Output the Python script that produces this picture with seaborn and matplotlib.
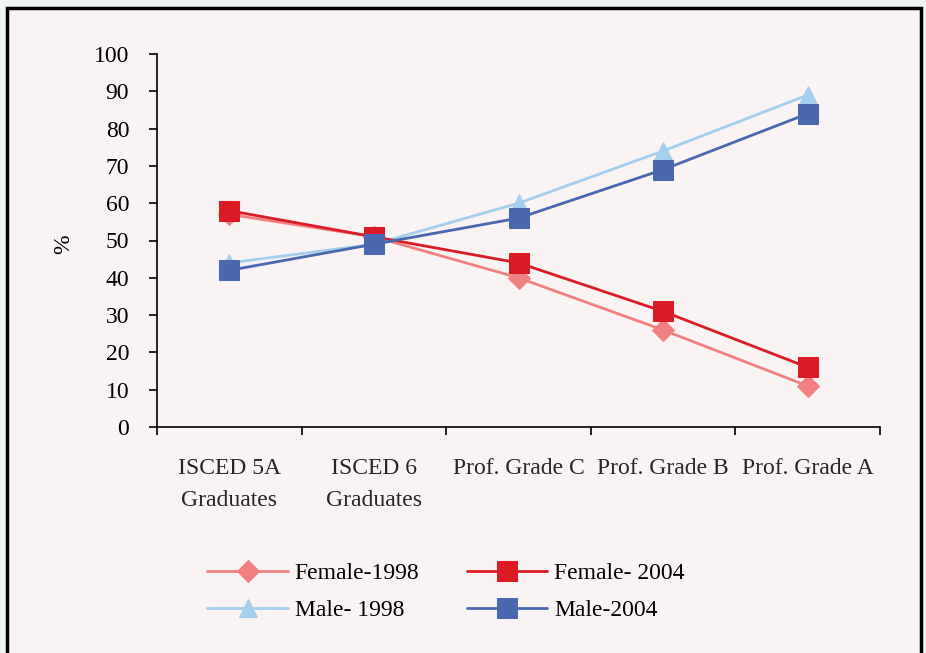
import seaborn as sns
import matplotlib.pyplot as plt
from matplotlib.patches import Rectangle
import pandas as pd

categories = ['ISCED 5A\nGraduates', 'ISCED 6\nGraduates', 'Prof. Grade C', 'Prof. Grade B', 'Prof. Grade A']
female_1998 = [57, 51, 40, 26, 11]
female_2004 = [58, 51, 44, 31, 16]
male_1998 = [44, 49, 60, 74, 89]
male_2004 = [42, 49, 56, 69, 84]

series = [
    ('Female-1998', female_1998, '#f28080', 'D', 11),
    ('Male- 1998', male_1998, '#a4cfee', '^', 13),
    ('Female- 2004', female_2004, '#dc1c24', 's', 15),
    ('Male-2004', male_2004, '#4a68b0', 's', 15),
]

sns.set_style('ticks')
plt.rcParams['font.family'] = ['Liberation Serif', 'DejaVu Serif']
plt.rcParams['text.color'] = 'black'
fs = 17

inner = '#f9f3f3'
fig = plt.figure(figsize=(9.26, 6.53), dpi=100, facecolor='#eef4f0')
fig.patches.append(Rectangle((7 / 926, -0.1), 914 / 926, 1.1 - 8 / 653,
                             transform=fig.transFigure, facecolor=inner,
                             edgecolor='black', linewidth=2.5, zorder=-10))
ax = fig.add_axes([157 / 926, 1 - 427 / 653, 723 / 926, 373 / 653])
ax.set_facecolor(inner)

x = list(range(len(categories)))
for name, vals, col, mk, ms in series:
    df = pd.DataFrame({'x': x, 'value': vals})
    sns.lineplot(data=df, x='x', y='value', color=col, marker=mk, markersize=ms,
                 markeredgecolor=col, linewidth=2, label=name, ax=ax)

ax.set_xlim(-0.5, len(categories) - 0.5)
ax.set_ylim(0, 100)
ax.set_yticks(range(0, 101, 10))
ax.set_xticks([i - 0.5 for i in range(len(categories) + 1)])
ax.set_xticklabels([])
ax.set_xticks(x, minor=True)
ax.set_xticklabels(categories, minor=True, fontsize=fs, linespacing=1.7)
ax.tick_params(axis='x', which='minor', length=0, pad=22)
ax.tick_params(axis='x', which='major', length=6, width=1.2, color='black')
ax.tick_params(axis='y', length=6, width=1.2, color='black', labelsize=fs, pad=14)
ax.tick_params(labelcolor='black')
for s in ['top', 'right']:
    ax.spines[s].set_visible(False)
for s in ['left', 'bottom']:
    ax.spines[s].set_linewidth(1.2)
    ax.spines[s].set_color('black')
ax.set_xlabel('')
ax.set_ylabel('%', fontsize=fs, color='black')
ax.yaxis.set_label_coords(-0.115, 0.49)

h, l = ax.get_legend_handles_labels()
ax.legend_.remove()
fig.legend(h, l, ncol=2, loc='center',
           bbox_to_anchor=(446 / 926, 1 - 592 / 653), frameon=False, fontsize=fs,
           handlelength=3.4, handletextpad=0.3, columnspacing=2.0, labelspacing=0.65)

plt.savefig('out.png', dpi=100, facecolor=fig.get_facecolor())
